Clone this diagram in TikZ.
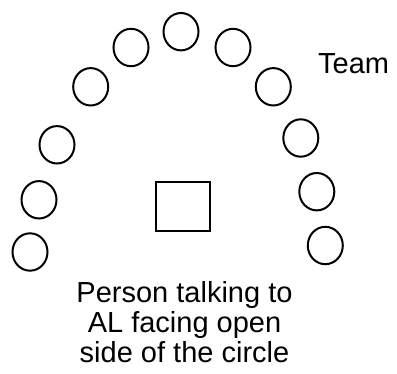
\documentclass[tikz,border=0pt]{standalone}
\usepackage{fontspec}
\setmainfont{Liberation Sans}
\usetikzlibrary{shapes.geometric}
\begin{document}
\begin{tikzpicture}[x=1pt,y=-1pt,
  seat/.style={draw=black,line width=2pt,ellipse,minimum width=35pt,minimum height=37.4pt,inner sep=0pt},
  speaker/.style={draw=black,line width=2pt,minimum width=54pt,minimum height=49pt,inner sep=0pt},
  caption/.style={font=\fontsize{29}{30}\selectfont,align=center,inner sep=0pt}]
\useasboundingbox (0,0) rectangle (397,374);
% seats of the team, arranged in an open arc
\node[seat] (s1)  at (30,252)    {};
\node[seat] (s2)  at (39,199.8)  {};
\node[seat] (s3)  at (57,144.8)  {};
\node[seat] (s4)  at (90.7,86.8) {};
\node[seat] (s5)  at (131,47.5)  {};
\node[seat] (s6)  at (181,31.7)  {};
\node[seat] (s7)  at (233,47.5)  {};
\node[seat] (s8)  at (273.3,86.8){};
\node[seat] (s9)  at (300.8,138) {};
\node[seat] (s10) at (316.8,191.7){};
\node[seat] (s11) at (325.3,245.5){};
% the person in the middle
\node[speaker] (p) at (183,206.5) {};
% labels
\node[caption,anchor=base west] (team) at (318,74) {Team};
\node[caption,anchor=base] (l1) at (184.5,303) {Person talking to};
\node[caption,anchor=base] (l2) at (184.5,333) {AL facing open};
\node[caption,anchor=base] (l3) at (184.5,363) {side of the circle};
\end{tikzpicture}
\end{document}
